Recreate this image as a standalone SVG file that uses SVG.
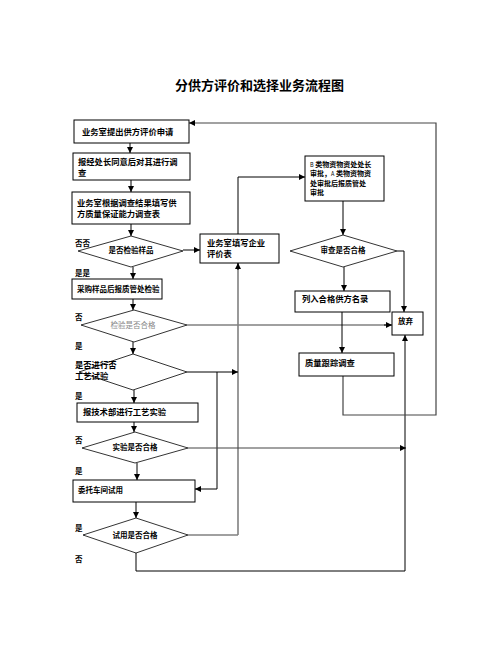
<svg xmlns="http://www.w3.org/2000/svg" width="496" height="662" viewBox="0 0 496 662">
<style>
text{font-family:"Noto Sans CJK SC","Liberation Sans",sans-serif;font-weight:bold;fill:#000}
.t{font-size:8.3px}
.s{font-size:7.5px}
.b{font-size:7px}
.c{text-anchor:middle}
.lbl{font-size:7.5px}
.box{fill:#fff;stroke:#000;stroke-width:1}
.dia{fill:#fff;stroke:#000;stroke-width:0.8}
.ln{fill:none;stroke:#000;stroke-width:1}
.gl{fill:none;stroke:#808080;stroke-width:1.6}
.dl{fill:none;stroke:#444;stroke-width:1.2}
</style>
<defs>
<marker id="a" viewBox="0 0 10 10" refX="10" refY="5" markerWidth="6" markerHeight="6" markerUnits="userSpaceOnUse" orient="auto">
<path d="M0,0 L10,5 L0,10 z" fill="#000"/>
</marker>
</defs>
<rect width="496" height="662" fill="#fff"/>
<text x="175" y="90" style="font-size:13px">分供方评价和选择业务流程图</text>

<g id="connectors">
<path class="ln" d="M130,143 V153" marker-end="url(#a)"/>
<path class="ln" d="M131,180 V192" marker-end="url(#a)"/>
<path class="ln" d="M131,224 V236" marker-end="url(#a)"/>
<path class="ln" d="M133,267 V279" marker-end="url(#a)"/>
<path class="ln" d="M133,299 V310" marker-end="url(#a)"/>
<path class="ln" d="M133,342 V354" marker-end="url(#a)"/>
<path class="ln" d="M134,390 V403" marker-end="url(#a)"/>
<path class="ln" d="M134,422 V432" marker-end="url(#a)"/>
<path class="ln" d="M137,463 V480" marker-end="url(#a)"/>
<path class="ln" d="M136,502 V518" marker-end="url(#a)"/>
<path class="ln" d="M183,250 H200" marker-end="url(#a)"/>
<path class="gl" d="M238,535 V263"/>
<path class="ln" d="M238,270 V263" marker-end="url(#a)"/>
<path class="gl" d="M188,535 H238"/>
<path class="ln" d="M238,234 V177 H305" marker-end="url(#a)"/>
<path class="gl" d="M187,325 H391"/>
<path class="ln" d="M384,325 H392" marker-end="url(#a)"/>
<path class="ln" d="M187,372 H238" marker-end="url(#a)"/>
<path class="ln" d="M217,372 V489 H195" marker-end="url(#a)"/>
<path class="dl" d="M188,448 H406" marker-end="url(#a)"/>
<path class="ln" d="M136,553 V571 H405 V335" marker-end="url(#a)"/>
<path class="ln" d="M343,201 V235" marker-end="url(#a)"/>
<path class="ln" d="M344,267 V291" marker-end="url(#a)"/>
<path class="ln" d="M397,251 H404 V312" marker-end="url(#a)"/>
<path class="ln" d="M342,312 V353" marker-end="url(#a)"/>
<path class="dl" d="M343,376 V415 H436 V123 H189" marker-end="url(#a)"/>
</g>

<g id="n1"><rect class="box" x="74" y="120" width="115" height="23"/><text class="t" x="82" y="135">业务室提出供方评价申请</text></g>
<g id="n2"><rect class="box" x="73" y="153" width="117" height="27"/><text class="t" x="78" y="165">报经处长同意后对其进行调</text><text class="t" x="78" y="176">查</text></g>
<g id="n3"><rect class="box" x="72" y="192" width="118" height="32"/><text class="t" x="77" y="206">业务室根据调查结果填写供</text><text class="t" x="77" y="217">方质量保证能力调查表</text></g>
<g id="d1"><polygon class="dia" points="131,236 183,251 131,267 78,251"/><text class="s c" x="131" y="253">是否检验样品</text></g>
<g id="n4"><rect class="box" x="200" y="234" width="79" height="29"/><text class="t" x="207" y="246">业务室填写企业</text><text class="t" x="207" y="257">评价表</text></g>
<g id="n5"><rect class="box" x="72" y="279" width="90" height="20"/><text class="s" x="77" y="292">采购样品后报质管处检验</text></g>
<g id="d2"><polygon class="dia" points="134,310 187,325 134,342 81,325"/><text class="s c" x="133" y="328" style="font-weight:normal;fill:#888">检验是否合格</text></g>
<g id="d3"><polygon class="dia" points="133,354 187,372 133,390 79,372"/><text class="t" x="75" y="368">是否进行否</text><text class="t" x="75" y="379">工艺试验</text></g>
<g id="n6"><rect class="box" x="77" y="403" width="121" height="19"/><text class="t" x="83" y="415">报技术部进行工艺实验</text></g>
<g id="d4"><polygon class="dia" points="135,432 188,448 135,463 82,448"/><text class="s c" x="135" y="450">实验是否合格</text></g>
<g id="n7"><rect class="box" x="73" y="480" width="122" height="22"/><text class="s" x="78" y="493">委托车间试用</text></g>
<g id="d5"><polygon class="dia" points="136,518 188,535 136,553 83,535"/><text class="s c" x="135" y="538">试用是否合格</text></g>
<g id="n8"><rect class="box" x="305" y="156" width="79" height="45"/><text class="b" x="310" y="166.5"><tspan style="font-size:5.5px;font-weight:normal">B</tspan> 类物资物资处处长</text><text class="b" x="310" y="176">审批，<tspan style="font-size:5.5px;font-weight:normal">A</tspan> 类物资物资</text><text class="b" x="310" y="185.5">处审批后报质管处</text><text class="b" x="310" y="195">审批</text></g>
<g id="d6"><polygon class="dia" points="343,235 397,251 343,267 290,251"/><text class="s c" x="343" y="253">审查是否合格</text></g>
<g id="n9"><rect class="box" x="295" y="291" width="95" height="21"/><text class="t" x="302" y="302">列入合格供方名录</text></g>
<g id="n10"><rect class="box" x="392" y="312" width="31" height="23"/><text class="s" x="398" y="324">放弃</text></g>
<g id="n11"><rect class="box" x="299" y="353" width="95" height="23"/><text class="t" x="305" y="366">质量跟踪调查</text></g>

<g id="labels">
<text class="lbl" x="75" y="246">否否</text>
<text class="lbl" x="75" y="276">是是</text>
<text class="lbl" x="75" y="320">否</text>
<text class="lbl" x="75" y="349">是</text>
<text class="lbl" x="75" y="399">是</text>
<text class="lbl" x="75" y="443">否</text>
<text class="lbl" x="75" y="474">是</text>
<text class="lbl" x="75" y="531">是</text>
<text class="lbl" x="75" y="562">否</text>
</g>
</svg>
